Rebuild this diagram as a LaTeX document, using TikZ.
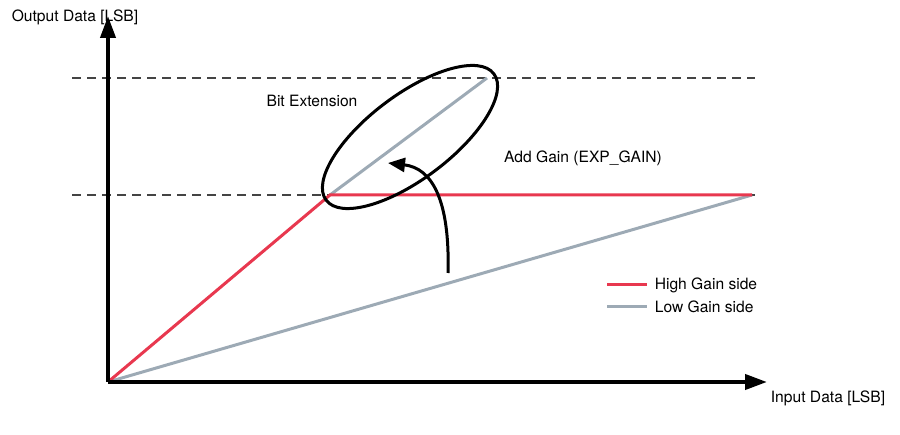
\documentclass[tikz,border=0pt]{standalone}
\usepackage{fontspec}
\setmainfont{TeX Gyre Heros}
\usepackage{tikz}
\usetikzlibrary{arrows.meta}
\definecolor{hgred}{HTML}{E8384F}
\definecolor{lggray}{HTML}{9DAAB5}
\definecolor{dashgray}{HTML}{444444}
\begin{document}
\begin{tikzpicture}[x=1pt, y=-1pt, font=\fontsize{15.6}{18}\selectfont,
  axis/.style={line width=4pt, -{Triangle[length=22pt, width=15pt]}},
  level/.style={draw=dashgray, line width=1.8pt, dash pattern=on 9pt off 6pt},
  high/.style={draw=hgred, line width=3pt},
  low/.style={draw=lggray, line width=3pt}]
\useasboundingbox (0,0) rectangle (900,435);
\coordinate (O) at (108,382);
\coordinate (K) at (330,195);
\coordinate (T) at (487,78);
\coordinate (E) at (752,195);
\draw [level] (72,78) -- (755,78);
\draw [level] (72,195) -- (755,195);
\draw [low]  (O) -- (E);
\draw [low]  (K) -- (T);
\draw [high] (O) -- (K) -- (E);
\draw [axis] (O) -- (108,16);
\draw [axis] (O) -- (767,382);
\node (yl) at (75,17) {Output Data [LSB]};
\node (xl) at (828,398) {Input Data [LSB]};
\draw [line width=3pt, rotate around={37:(410,137)}] (410,137) ellipse (105 and 42);
\node (bit) at (312,101) {Bit Extension};
\node (add) at (583,158) {Add Gain (EXP\_GAIN)};
\draw [line width=3pt, -{Triangle[length=17pt, width=14pt]}] (448,273) .. controls (450,200) and (432,168) .. (388,163);
% legend
\draw [high] (607,285) -- (647,285) node[right=3pt]{High Gain side};
\draw [low]  (607,307) -- (647,307) node[right=3pt]{Low Gain side};
\end{tikzpicture}
\end{document}
